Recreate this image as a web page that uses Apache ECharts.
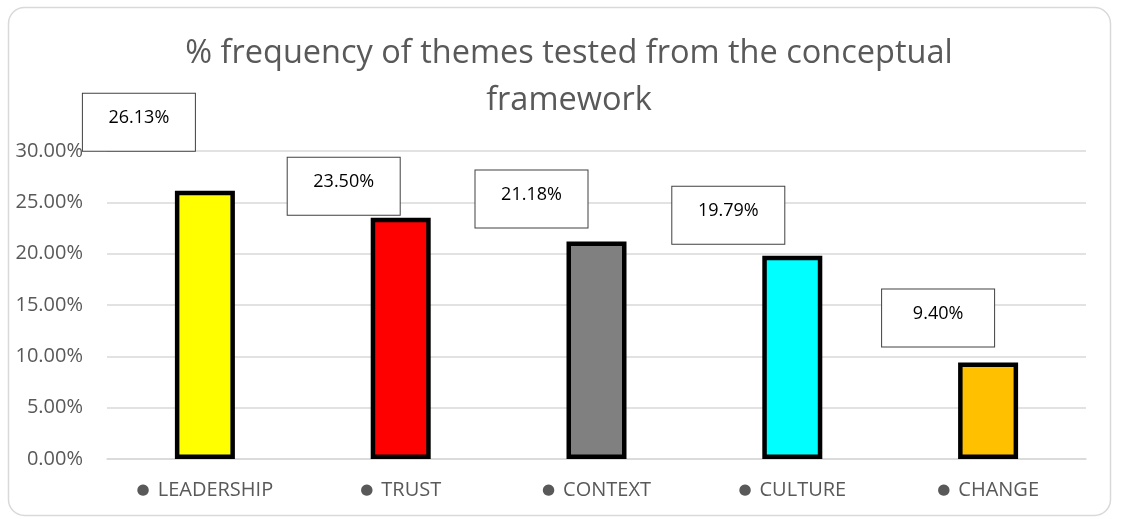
<!DOCTYPE html>
<html>
<head>
<meta charset="utf-8">
<script src="https://cdn.jsdelivr.net/npm/echarts@6/dist/echarts.min.js"></script>
<style>
html,body{margin:0;padding:0;background:#fff;}
#chart{width:1121px;height:519px;}
</style>
</head>
<body>
<div id="chart"></div>
<script>
const categories = ['LEADERSHIP', 'TRUST', 'CONTEXT', 'CULTURE', 'CHANGE'];
const values = [26.13, 23.50, 21.18, 19.79, 9.40];
const barColors = ['#FFFF00', '#FF0000', '#808080', '#00FFFF', '#FFC000'];
const yTicks = [0, 5, 10, 15, 20, 25, 30];
// label box placement (layout only)
const labelOffsets = [[-66, -40], [-57, -3], [-65, -14], [-64, -12], [-50, -16]];

const chart = echarts.init(document.getElementById('chart'));
const FONT = 'Open Sans';

chart.setOption({
  animation: false,
  backgroundColor: '#fff',
  title: {
    text: '% frequency of themes tested from the conceptual\nframework',
    left: 564,
    textAlign: 'center',
    top: 25,
    textStyle: {
      fontFamily: FONT, fontSize: 32.5, fontWeight: 'normal', color: '#595959', lineHeight: 47
    }
  },
  graphic: [{
    type: 'rect',
    shape: { x: 8.5, y: 7.5, width: 1102, height: 508, r: 16 },
    style: { fill: null, stroke: '#d9d9d9', lineWidth: 1.5 },
    silent: true, z: -1
  }],
  grid: { left: 107, right: 35, top: 151, bottom: 60 },
  xAxis: {
    type: 'category',
    data: categories,
    axisTick: { show: false },
    axisLine: { show: true, lineStyle: { color: '#d9d9d9', width: 1.5 } },
    axisLabel: {
      margin: 21,
      formatter: v => '{b|●}{t|' + v + '}',
      rich: {
        b: { fontFamily: 'DejaVu Sans', fontSize: 15, color: '#595959', padding: [0, 8, 0, 0] },
        t: { fontFamily: FONT, fontSize: 20, color: '#595959' }
      }
    }
  },
  yAxis: {
    type: 'value',
    min: 0, max: yTicks[yTicks.length - 1], interval: yTicks[1] - yTicks[0],
    axisLine: { show: false },
    axisTick: { show: false },
    splitLine: { lineStyle: { color: '#d9d9d9', width: 1.5 } },
    axisLabel: {
      margin: 24,
      fontFamily: FONT, fontSize: 20, color: '#595959',
      formatter: v => v.toFixed(2) + '%'
    }
  },
  series: [{
    type: 'bar',
    barWidth: 60,
    data: values.map((v, i) => ({
      value: v,
      itemStyle: { color: barColors[i] },
      label: { offset: labelOffsets[i] }
    })),
    itemStyle: { borderColor: '#000', borderWidth: 4.5 },
    label: {
      show: true,
      position: 'top',
      distance: 0,
      formatter: p => p.value.toFixed(2) + '%',
      fontFamily: FONT, fontSize: 18, color: '#000',
      backgroundColor: '#fff',
      borderColor: '#404040', borderWidth: 1,
      width: 112, align: 'center',
      lineHeight: 18,
      padding: [15, 0, 24, 0]
    }
  }]
});
</script>
</body>
</html>
